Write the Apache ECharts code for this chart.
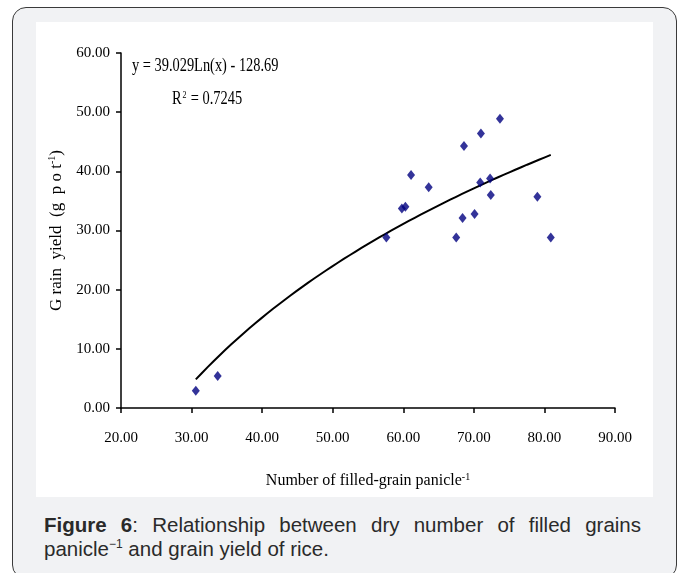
<!DOCTYPE html>
<html>
<head>
<meta charset="utf-8">
<script src="https://cdn.jsdelivr.net/npm/echarts@6/dist/echarts.min.js"></script>
<style>
  html, body { margin: 0; padding: 0; background: #fff; }
  #frame {
    position: absolute; left: 12px; top: 7px; width: 663px; height: 570px;
    border: 1.5px solid #3a3a3a; border-radius: 14px; background: #f1f2f4;
  }
  #panel {
    position: absolute; left: 36px; top: 22px; width: 617px; height: 475px;
    background: #fff;
  }
  #caption {
    position: absolute; left: 44px; top: 513px; width: 597px;
    font-family: "Liberation Sans", Arial, sans-serif; font-size: 20.5px;
    line-height: 24px; color: #2a2a2a; text-align: justify;
  }
  #caption sup { font-size: 12px; line-height: 0; }
  #chart { position: absolute; left: 0; top: 0; width: 683px; height: 573px; }
</style>
</head>
<body>
<div id="frame"></div>
<div id="panel"></div>
<div id="caption"><b>Figure 6</b>: Relationship between dry number of filled grains panicle<sup>&minus;1</sup> and grain yield of rice.</div>
<div id="chart"></div>
<script>
// filled grains per panicle (x) and grain yield g/pot (y)
const filledGrains = [30.6, 33.7, 57.6, 59.8, 60.3, 61.1, 63.6, 67.5, 68.4, 68.6, 70.1, 70.9, 71.0, 72.3, 72.4, 73.7, 79.0, 80.9];
const grainYield   = [2.9, 5.4, 28.8, 33.7, 34.0, 39.4, 37.3, 28.8, 32.1, 44.3, 32.8, 38.1, 46.4, 38.8, 36.0, 48.9, 35.7, 28.8];

// logarithmic trendline printed on the chart: y = 39.029Ln(x) - 128.69
const fitA = 39.029;
const fitB = -128.69;
const fitR2 = "0.7245";

const serif = "Liberation Serif";

const points = filledGrains.map((x, i) => [x, grainYield[i]]);

const xMin = Math.min(...filledGrains);
const xMax = Math.max(...filledGrains);
const trend = [];
for (let i = 0; i <= 60; i++) {
  const x = xMin + (xMax - xMin) * i / 60;
  trend.push([x, fitA * Math.log(x) + fitB]);
}

const supStyle = { fontSize: 10, fontFamily: serif, verticalAlign: "top", padding: [0, 0, 8, 0] };

const myChart = echarts.init(document.getElementById("chart"));
const option = {
  animation: false,
  grid: { left: 121, right: 68, top: 53, bottom: 165 },
  xAxis: {
    type: "value",
    min: 20, max: 90, interval: 10,
    splitLine: { show: false },
    axisLine: { lineStyle: { color: "#000", width: 1.5 } },
    axisTick: { length: 5, lineStyle: { color: "#000", width: 1.5 } },
    axisLabel: {
      margin: 23, color: "#000", fontFamily: serif, fontSize: 15,
      formatter: (v) => v.toFixed(2),
    },
    name: "Number of filled-grain panicle{sup|-1}",
    nameLocation: "middle",
    nameGap: 64,
    nameTextStyle: { color: "#000", fontFamily: serif, fontSize: 16, rich: { sup: supStyle } },
  },
  yAxis: {
    type: "value",
    min: 0, max: 60, interval: 10,
    splitLine: { show: false },
    axisLine: { show: true, lineStyle: { color: "#000", width: 1.5 } },
    axisTick: { show: true, length: 5, lineStyle: { color: "#000", width: 1.5 } },
    axisLabel: {
      margin: 11, color: "#000", fontFamily: serif, fontSize: 15,
      formatter: (v) => v.toFixed(2),
    },
    name: "G rain  yield  (g  p o t{sup|-1})",
    nameLocation: "middle",
    nameRotate: 90,
    nameGap: 53,
    nameTextStyle: { color: "#000", fontFamily: serif, fontSize: 17, rich: { sup: supStyle } },
  },
  graphic: [
    {
      type: "text", x: 132, y: 66, scaleX: 0.8, originX: 0,
      style: { text: "y = 39.029Ln(x) - 128.69", font: "18px " + serif, fill: "#000", verticalAlign: "middle" },
    },
    {
      type: "text", x: 172, y: 99, scaleX: 0.8, originX: 0,
      style: {
        text: "R{s|2} = " + fitR2, font: "18px " + serif, fill: "#000", verticalAlign: "middle",
        rich: { s: { font: "10px " + serif, fill: "#000", verticalAlign: "top", padding: [0, 1, 8, 1] } },
      },
    },
  ],
  series: [
    {
      type: "line",
      data: trend,
      showSymbol: false,
      lineStyle: { color: "#000", width: 2 },
      z: 2,
    },
    {
      type: "scatter",
      data: points,
      symbol: "diamond",
      symbolSize: [8, 10],
      itemStyle: { color: "#000080" },
      z: 3,
    },
  ],
};
myChart.setOption(option);
</script>
</body>
</html>
